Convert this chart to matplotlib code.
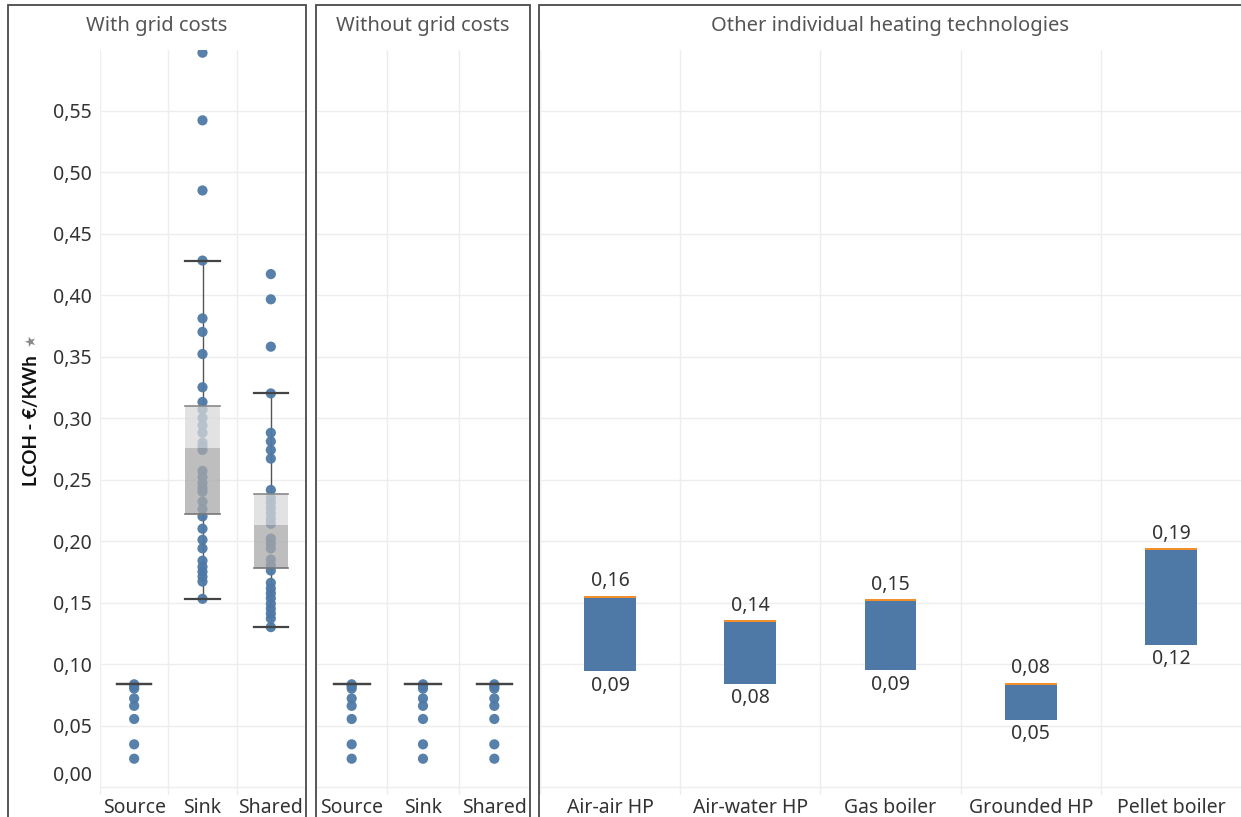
import matplotlib
matplotlib.use("Agg")
import matplotlib.pyplot as plt
from matplotlib.patches import Rectangle
from matplotlib.transforms import ScaledTranslation

# ---- data ----
cols = ["Source", "Sink", "Shared"]

source_vals = [0.0835, 0.082, 0.080, 0.072, 0.066, 0.0553, 0.0347, 0.023]
sink_with = [0.597, 0.542, 0.485, 0.428, 0.381, 0.370, 0.352, 0.325, 0.313, 0.307,
             0.300, 0.294, 0.288, 0.280, 0.277, 0.274, 0.257, 0.252, 0.247, 0.243,
             0.240, 0.232, 0.226, 0.220, 0.210, 0.201, 0.194, 0.184, 0.179, 0.175,
             0.171, 0.167, 0.153]
shared_with = [0.417, 0.3965, 0.358, 0.320, 0.288, 0.281, 0.274, 0.267, 0.2415, 0.235,
               0.231, 0.227, 0.2225, 0.218, 0.214, 0.202, 0.198, 0.194, 0.185, 0.1805,
               0.176, 0.166, 0.1615, 0.1575, 0.1535, 0.149, 0.145, 0.141, 0.137, 0.130]

# box plot stats (Source, Sink, Shared) - with grid costs
q1_with = [0.0835, 0.222, 0.1783]
med_with = [0.0835, 0.2754, 0.213]
q3_with = [0.0835, 0.310, 0.2382]
lo_with = [0.0835, 0.153, 0.130]
hi_with = [0.0835, 0.428, 0.320]

# without grid costs: all three columns equal the source values
q1_without = [0.0835, 0.0835, 0.0835]
med_without = [0.0835, 0.0835, 0.0835]
q3_without = [0.0835, 0.0835, 0.0835]
lo_without = [0.0835, 0.0835, 0.0835]
hi_without = [0.0835, 0.0835, 0.0835]

techs = ["Air-air HP", "Air-water HP", "Gas boiler", "Grounded HP", "Pellet boiler"]
tech_low = [0.094, 0.0835, 0.0948, 0.0545, 0.1156]
tech_high = [0.1556, 0.1358, 0.1529, 0.0849, 0.1943]
tech_extra = [0.0018, 0.0018, 0.0018, 0.0018, 0.0018]

yticks = [0.00, 0.05, 0.10, 0.15, 0.20, 0.25, 0.30, 0.35, 0.40, 0.45, 0.50, 0.55]

BLUE = "#4e79a7"
ORANGE = "#f28e2b"
GRID = "#ededed"
TXT = "#333333"
FS = 14

plt.rcParams['font.family'] = ['Noto Sans', 'DejaVu Sans']

W, H = 1241, 817
fig = plt.figure(figsize=(W / 100, H / 100), dpi=100)


def px_axes(l, t, r, b):
    return fig.add_axes([l / W, 1 - b / H, (r - l) / W, (b - t) / H])


def fmt(v):
    return f"{v:.2f}".replace(".", ",")


YLO, YHI = -0.0065, 0.5992


def style(ax, n):
    ax.set_xlim(-0.5, n - 0.5)
    ax.set_ylim(YLO, YHI)
    for s in ax.spines.values():
        s.set_visible(False)
    ax.set_yticks(yticks)
    for y in yticks:
        ax.axhline(y, color=GRID, lw=1, zorder=0)
    for i in range(n):
        ax.axvline(i - 0.5, color=GRID, lw=1, zorder=0)
    ax.set_xticks(range(n))
    ax.tick_params(length=0, labelsize=FS, labelcolor=TXT)
    ax.tick_params(axis="x", pad=2)
    ax.set_facecolor("none")


def boxes(ax, groups, q1, med, q3, lo, hi):
    w = 0.5
    for i, vals in enumerate(groups):
        ax.plot([i, i], [lo[i], q1[i]], color="#555555", lw=1, zorder=2)
        ax.plot([i, i], [q3[i], hi[i]], color="#555555", lw=1, zorder=2)
        ax.scatter([i] * len(vals), vals, s=54, color=BLUE, zorder=3,
                   edgecolors="none", alpha=0.95)
        if q3[i] > q1[i]:
            ax.bar(i, q3[i] - med[i], bottom=med[i], width=w, color="#d9d9d9",
                   alpha=0.75, zorder=4)
            ax.bar(i, med[i] - q1[i], bottom=q1[i], width=w, color="#a9a9a9",
                   alpha=0.75, zorder=4)
            ax.plot([i - w / 2, i + w / 2], [q3[i], q3[i]], color="#888888", lw=1.2, zorder=5)
            ax.plot([i - w / 2, i + w / 2], [q1[i], q1[i]], color="#777777", lw=1.2, zorder=5)
        ax.plot([i - w / 2, i + w / 2], [hi[i], hi[i]], color="#444444", lw=1.6, zorder=5)
        ax.plot([i - w / 2, i + w / 2], [lo[i], lo[i]], color="#444444", lw=1.6, zorder=5)


# ---- panel 1: with grid costs ----
ax1 = px_axes(100, 50, 305, 795)
style(ax1, 3)
boxes(ax1, [source_vals, sink_with, shared_with], q1_with, med_with, q3_with, lo_with, hi_with)
ax1.set_xticklabels(cols)
ax1.set_yticklabels([fmt(v) for v in yticks])
ax1.tick_params(axis="y", pad=6)
zero_lab = ax1.yaxis.get_major_ticks()[0].label1
zero_lab.set_transform(zero_lab.get_transform() + ScaledTranslation(0, 0.14, fig.dpi_scale_trans))

# ---- panel 2: without grid costs ----
ax2 = px_axes(316, 50, 530, 795)
style(ax2, 3)
boxes(ax2, [source_vals, source_vals, source_vals], q1_without, med_without, q3_without,
      lo_without, hi_without)
ax2.set_xticklabels(cols)
ax2.set_yticklabels([])

# ---- panel 3: other technologies ----
ax3 = px_axes(540, 50, 1241, 795)
style(ax3, 5)
x3 = range(len(techs))
blue_h = [h - e - l for h, e, l in zip(tech_high, tech_extra, tech_low)]
ax3.bar(x3, blue_h, bottom=tech_low, width=0.37, color=BLUE, zorder=3)
ax3.bar(x3, tech_extra, bottom=[h - e for h, e in zip(tech_high, tech_extra)],
        width=0.37, color=ORANGE, zorder=3)
for i in x3:
    ax3.annotate(fmt(tech_high[i]), (i, tech_high[i]), xytext=(0, 3), textcoords="offset points",
                 ha="center", va="bottom", fontsize=FS, color=TXT)
    ax3.annotate(fmt(tech_low[i]), (i, tech_low[i]), xytext=(0, -3), textcoords="offset points",
                 ha="center", va="top", fontsize=FS, color=TXT)
ax3.set_xticklabels(techs)
ax3.set_yticklabels([])

# ---- frames and headers ----
for l, r, title in [(8, 306, "With grid costs"), (316, 530, "Without grid costs"),
                    (539, 1245, "Other individual heating technologies")]:
    fig.patches.append(Rectangle((l / W, -0.02), (r - l) / W, 1.02 - 5 / H,
                                 transform=fig.transFigure, fill=False,
                                 edgecolor="#4a4a4a", lw=1.3))
    fig.text((l + r) / 2 / W if r < 1241 else 890 / W, 1 - 26 / H, title,
             ha="center", va="center", fontsize=14.5, color="#555555")

fig.text(31 / W, 1 - 421 / H, "LCOH - €/KWh", rotation=90, ha="center", va="center",
         fontsize=13.5, fontweight="bold", color="#111111", family=["Lato", "DejaVu Sans"])
fig.text(31 / W, 1 - 341 / H, "★", rotation=90, ha="center", va="center",
         fontsize=10, color="#888888", family=["DejaVu Sans"])

fig.savefig("out.png", dpi=100)
